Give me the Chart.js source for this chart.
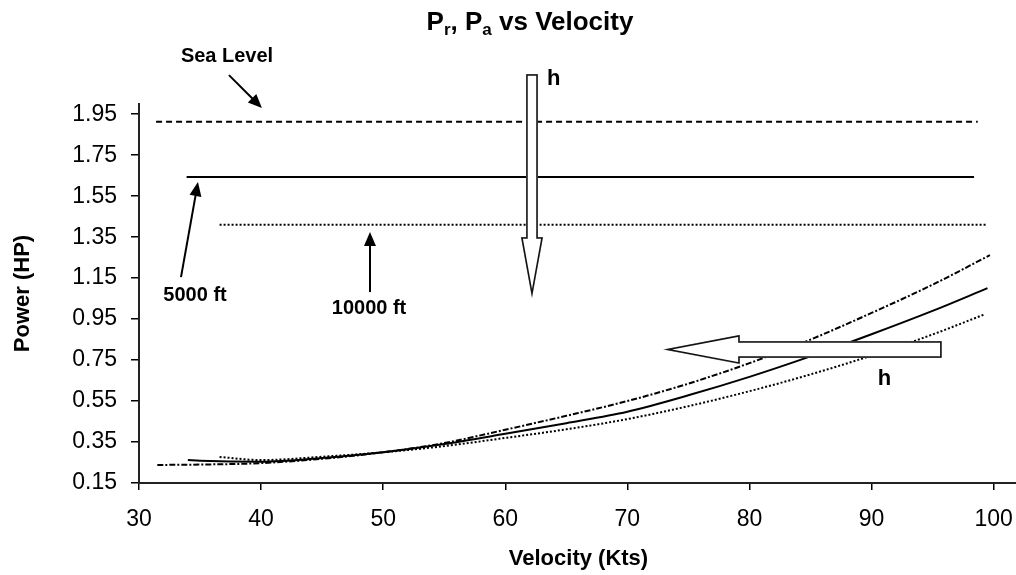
<!DOCTYPE html>
<html>
<head>
<meta charset="utf-8">
<script src="https://cdn.jsdelivr.net/npm/chart.js@4"></script>
<style>
  html, body { margin: 0; padding: 0; background: #fff; overflow: hidden; }
  #wrap { width: 1030px; height: 575px; }
</style>
</head>
<body>
<div id="wrap"><canvas id="powerChart" width="1030" height="575"></canvas></div>
<script>
// tick labels
var xTicks = [30, 40, 50, 60, 70, 80, 90, 100];
var yTicks = [0.15, 0.35, 0.55, 0.75, 0.95, 1.15, 1.35, 1.55, 1.75, 1.95];

// power required curves (velocity in kts, power in HP)
var seaV = [31.5, 35, 40, 45, 50, 55, 60, 65, 70, 75, 80, 85, 90, 95, 99.7];
var seaPr = [0.238, 0.240, 0.247, 0.268, 0.300, 0.345, 0.410, 0.478, 0.550, 0.635, 0.735, 0.850, 0.980, 1.118, 1.262];

var v5000 = [34, 35, 40, 45, 50, 55, 60, 65, 70, 75, 80, 85, 90, 95, 99.5];
var pr5000 = [0.262, 0.259, 0.254, 0.272, 0.300, 0.340, 0.390, 0.442, 0.498, 0.578, 0.668, 0.768, 0.876, 0.990, 1.101];

var v10000 = [36.6, 40, 45, 50, 55, 60, 65, 70, 75, 80, 85, 90, 95, 99.3];
var pr10000 = [0.277, 0.262, 0.278, 0.300, 0.330, 0.370, 0.412, 0.462, 0.525, 0.598, 0.680, 0.772, 0.875, 0.974];

// power available (flat lines)
var paSeaV = [31.4, 98.7];
var paSea = [1.913, 1.913];
var pa5000V = [33.9, 98.4];
var pa5000 = [1.644, 1.644];
var pa10000V = [36.6, 99.4];
var pa10000 = [1.41, 1.41];

function pts(xs, ys) {
    return xs.map(function (x, i) { return { x: x, y: ys[i] }; });
}

var FONT = '"Liberation Sans", Arial, sans-serif';

// arrows, notes and the title, placed in data units
var annotations = {
    id: 'annotations',
    afterDatasetsDraw: function (chart) {
        var ctx = chart.ctx;
        var xs = chart.scales.x, ys = chart.scales.y;
        var X = function (v) { return xs.getPixelForValue(v); };
        var Y = function (v) { return ys.getPixelForValue(v); };
        ctx.save();

        // hollow block arrows
        function blockArrow(poly) {
            ctx.beginPath();
            poly.forEach(function (p, i) { i ? ctx.lineTo(p[0], p[1]) : ctx.moveTo(p[0], p[1]); });
            ctx.closePath();
            ctx.save();
            ctx.translate(2, 2);
            ctx.strokeStyle = '#a0a0a0';
            ctx.lineWidth = 2;
            ctx.stroke();
            ctx.restore();
            ctx.fillStyle = '#fff';
            ctx.fill();
            ctx.strokeStyle = '#111';
            ctx.lineWidth = 1.5;
            ctx.stroke();
        }
        // vertical one, pointing down
        var cx = X(62.19), t = Y(2.141), hb = Y(1.346), tip = Y(1.077);
        blockArrow([[cx - 5, t], [cx + 5, t], [cx + 5, hb], [cx + 10, hb], [cx, tip],
                    [cx - 10, hb], [cx - 5, hb]]);
        // horizontal one, pointing left
        var cy = Y(0.802), tail = X(95.68), hx = X(79.14), tx = X(73.33);
        blockArrow([[tail, cy - 7.5], [tail, cy + 7.5], [hx, cy + 7.5], [hx, cy + 13.5], [tx, cy],
                    [hx, cy - 13.5], [hx, cy - 7.5]]);

        // thin arrows
        function arrow(x1, y1, x2, y2) {
            var a = Math.atan2(y2 - y1, x2 - x1);
            ctx.strokeStyle = '#000';
            ctx.fillStyle = '#000';
            ctx.lineWidth = 2;
            ctx.beginPath();
            ctx.moveTo(x1, y1);
            ctx.lineTo(x2 - 10 * Math.cos(a), y2 - 10 * Math.sin(a));
            ctx.stroke();
            ctx.beginPath();
            ctx.moveTo(x2, y2);
            ctx.lineTo(x2 - 14 * Math.cos(a) + 6 * Math.sin(a), y2 - 14 * Math.sin(a) - 6 * Math.cos(a));
            ctx.lineTo(x2 - 14 * Math.cos(a) - 6 * Math.sin(a), y2 - 14 * Math.sin(a) + 6 * Math.cos(a));
            ctx.closePath();
            ctx.fill();
        }
        arrow(X(37.37), Y(2.141), X(40.07), Y(1.980));
        arrow(X(33.44), Y(1.155), X(34.83), Y(1.619));
        arrow(X(48.92), Y(1.082), X(48.92), Y(1.375));

        // notes
        ctx.fillStyle = '#000';
        ctx.font = 'bold 20px ' + FONT;
        ctx.textAlign = 'center';
        ctx.textBaseline = 'middle';
        ctx.fillText('Sea Level', X(37.21), Y(2.234));
        ctx.fillText('5000 ft', X(34.59), Y(1.063));
        ctx.fillText('10000 ft', X(48.84), Y(1.0));
        ctx.font = 'bold 22px ' + FONT;
        ctx.textAlign = 'left';
        ctx.textBaseline = 'alphabetic';
        ctx.fillText('h', X(63.41), Y(2.092));
        ctx.fillText('h', X(90.52), Y(0.628));

        // title with subscripts
        var parts = [['P', 0], ['r', 1], [', P', 0], ['a', 1], [' vs Velocity', 0]];
        var big = 'bold 26px ' + FONT, small = 'bold 17px ' + FONT;
        var w = 0;
        parts.forEach(function (p) { ctx.font = p[1] ? small : big; w += ctx.measureText(p[0]).width; });
        var px = 530 - w / 2;
        parts.forEach(function (p) {
            ctx.font = p[1] ? small : big;
            ctx.fillText(p[0], px, p[1] ? 35 : 30);
            px += ctx.measureText(p[0]).width;
        });
        ctx.restore();
    }
};

var ctx = document.getElementById('powerChart');
var powerChart = new Chart(ctx, {
    type: 'scatter',
    data: {
        datasets: [
            { label: 'Pa sea level', data: pts(paSeaV, paSea), borderDash: [6, 4], borderWidth: 2 },
            { label: 'Pa 5000 ft', data: pts(pa5000V, pa5000), borderWidth: 2 },
            { label: 'Pa 10000 ft', data: pts(pa10000V, pa10000), borderDash: [2, 2], borderWidth: 2 },
            { label: 'Pr sea level', data: pts(seaV, seaPr), borderDash: [6, 2, 2, 2], borderWidth: 2 },
            { label: 'Pr 5000 ft', data: pts(v5000, pr5000), borderWidth: 2 },
            { label: 'Pr 10000 ft', data: pts(v10000, pr10000), borderDash: [2, 2], borderWidth: 2 }
        ].map(function (d) {
            d.showLine = true;
            d.pointRadius = 0;
            d.borderColor = '#000';
            d.cubicInterpolationMode = 'monotone';
            return d;
        })
    },
    options: {
        responsive: false,
        animation: false,
        events: [],
        layout: { padding: { top: 104, right: 12, left: 0, bottom: 3 } },
        plugins: { legend: { display: false }, title: { display: false }, tooltip: { enabled: false } },
        scales: {
            x: {
                type: 'linear',
                min: 30,
                max: 102,
                afterBuildTicks: function (s) { s.ticks = xTicks.map(function (v) { return { value: v }; }); },
                afterFit: function (s) { s.height = 89; },
                ticks: { color: '#000', font: { family: FONT, size: 23 }, padding: 16, maxRotation: 0 },
                grid: { drawOnChartArea: false, color: '#000', lineWidth: 1.5, tickLength: 7 },
                border: { display: true, color: '#222', width: 2 },
                title: { display: true, text: 'Velocity (Kts)', color: '#000', font: { family: FONT, size: 22, weight: 'bold' }, padding: 0 }
            },
            y: {
                type: 'linear',
                min: 0.15,
                max: 2.0,
                afterBuildTicks: function (s) { s.ticks = yTicks.map(function (v) { return { value: v }; }); },
                afterFit: function (s) { s.width = 139; },
                ticks: { color: '#000', font: { family: FONT, size: 23 }, padding: 14,
                         callback: function (v) { return v.toFixed(2); } },
                grid: { drawOnChartArea: false, color: '#000', lineWidth: 1.5, tickLength: 8 },
                border: { display: true, color: '#222', width: 2 },
                title: { display: true, text: 'Power (HP)', color: '#000', font: { family: FONT, size: 22, weight: 'bold' }, padding: { top: 10, bottom: 0 } }
            }
        }
    },
    plugins: [annotations]
});
</script>
</body>
</html>
